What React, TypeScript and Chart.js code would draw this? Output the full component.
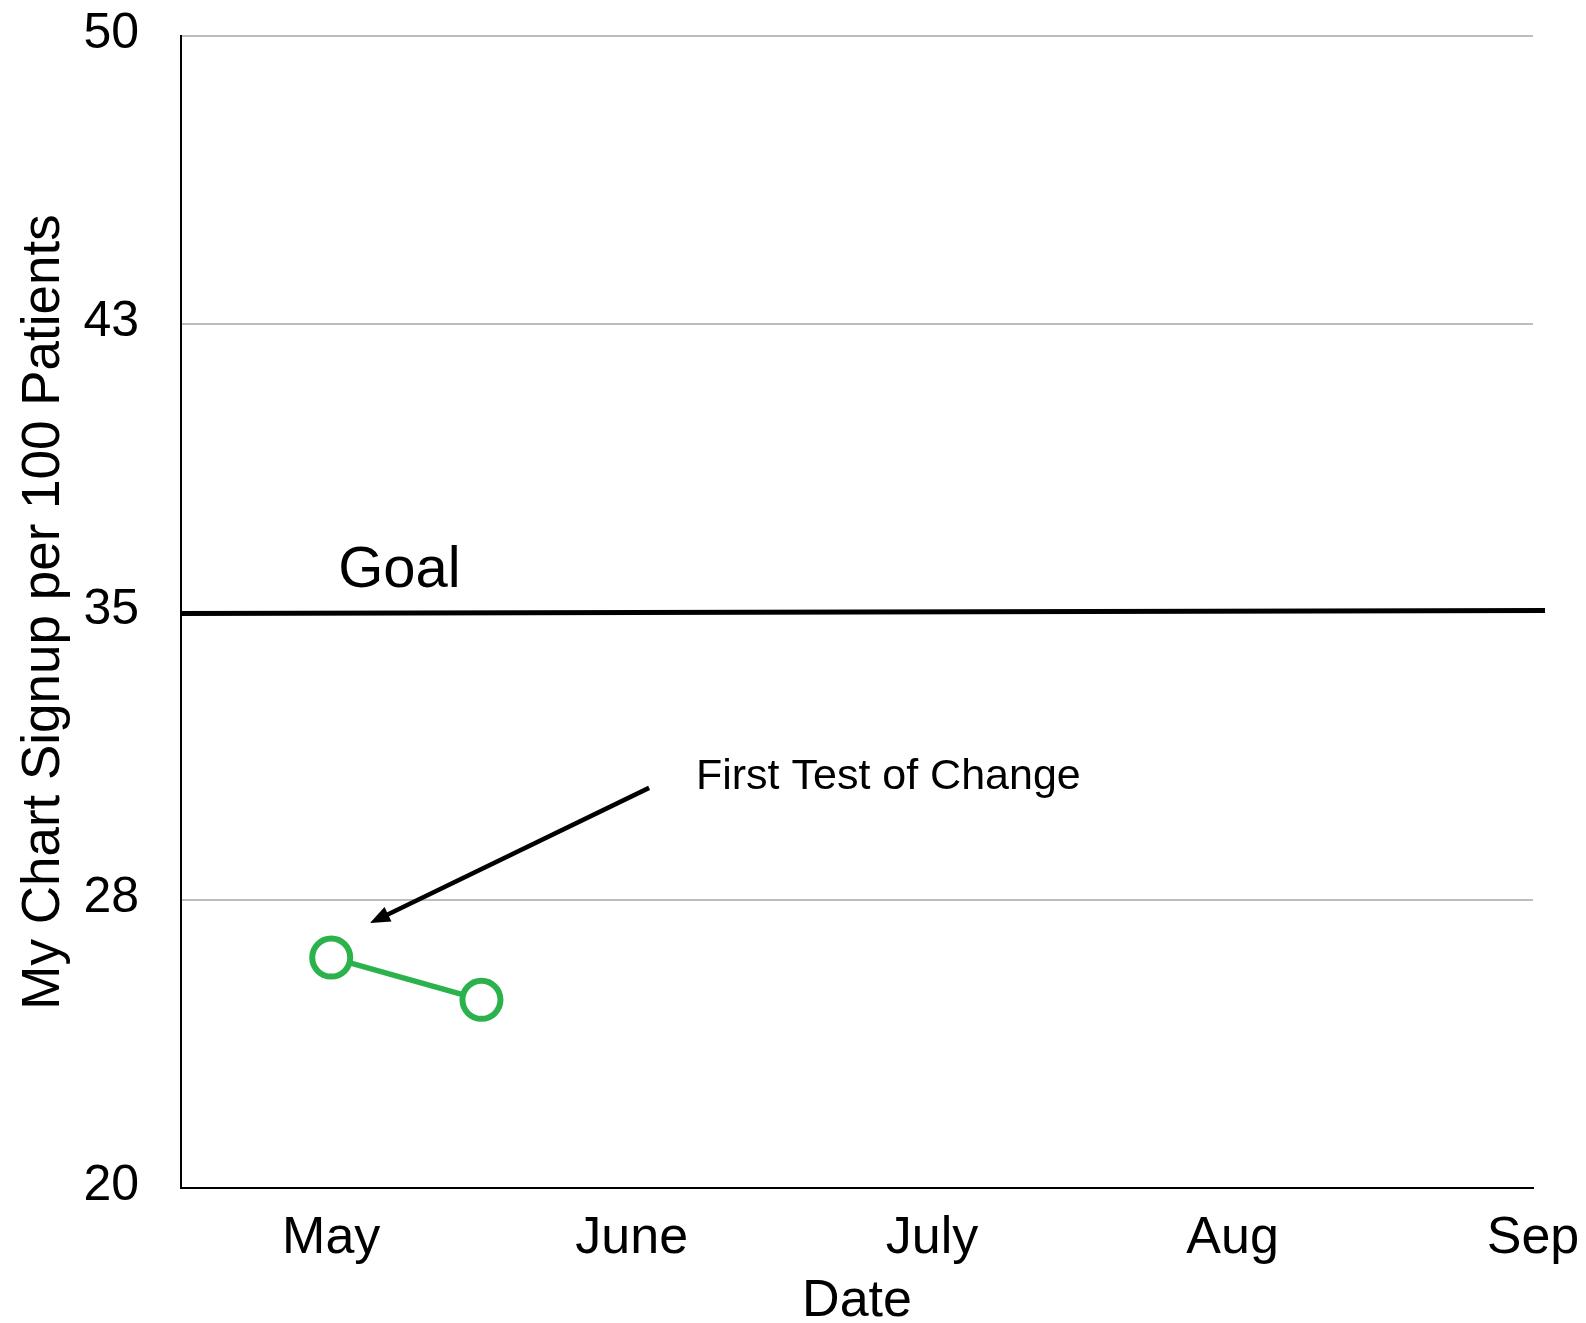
import React, { useEffect, useRef } from "react";
import { Chart, registerables } from "chart.js";

Chart.register(...registerables);

// ---- data ----
const months = ["May", "June", "July", "Aug", "Sep"];
const monthPositions = [0, 1, 2, 3, 4];
const signupX = [0, 0.5];
const signupY = [26.0, 24.9];
const goalX = [-0.5, 4.04];
const goalY = [34.96, 35.04];
const yTickValues = [20, 27.5, 35, 42.5, 50];
const yTickLabels = ["20", "28", "35", "43", "50"];
const goalLabel = "Goal";
const noteText = "First Test of Change";
const xTitle = "Date";
const yTitle = "My Chart Signup per 100 Patients";

// annotation anchors (data coordinates)
const goalLabelAt = { x: 0.023, y: 35.65 };
const noteAt = { x: 1.214, y: 30.39 };
const arrowFrom = { x: 1.058, y: 30.42 };
const arrowTo = { x: 0.129, y: 26.9 };

const FONT = '"Liberation Sans", Arial, sans-serif';
const GREEN = "#2bb24c";
const W = 1586;
const H = 1323;

const annotationPlugin = {
  id: "annotations",
  afterDatasetsDraw(chart: any) {
    const { ctx } = chart;
    const xs = chart.scales.x;
    const ys = chart.scales.y;
    ctx.save();
    ctx.fillStyle = "#000";
    ctx.textAlign = "left";
    ctx.textBaseline = "alphabetic";
    ctx.font = `58px ${FONT}`;
    ctx.fillText(goalLabel, xs.getPixelForValue(goalLabelAt.x), ys.getPixelForValue(goalLabelAt.y));
    ctx.font = `43px ${FONT}`;
    ctx.fillText(noteText, xs.getPixelForValue(noteAt.x), ys.getPixelForValue(noteAt.y));

    const x1 = xs.getPixelForValue(arrowFrom.x);
    const y1 = ys.getPixelForValue(arrowFrom.y);
    const x2 = xs.getPixelForValue(arrowTo.x);
    const y2 = ys.getPixelForValue(arrowTo.y);
    const ang = Math.atan2(y2 - y1, x2 - x1);
    const headLen = 20;
    const headHalf = 8;
    const bx = x2 - headLen * Math.cos(ang);
    const by = y2 - headLen * Math.sin(ang);
    ctx.strokeStyle = "#000";
    ctx.lineWidth = 4.5;
    ctx.beginPath();
    ctx.moveTo(x1, y1);
    ctx.lineTo(bx + 2 * Math.cos(ang), by + 2 * Math.sin(ang));
    ctx.stroke();
    ctx.beginPath();
    ctx.moveTo(x2, y2);
    ctx.lineTo(bx + headHalf * Math.sin(ang), by - headHalf * Math.cos(ang));
    ctx.lineTo(bx - headHalf * Math.sin(ang), by + headHalf * Math.cos(ang));
    ctx.closePath();
    ctx.fill();
    ctx.restore();
  },
};

export default function App() {
  const ref = useRef<HTMLCanvasElement | null>(null);

  useEffect(() => {
    if (!ref.current) return;
    const chart = new Chart(ref.current, {
      type: "line",
      data: {
        datasets: [
          {
            label: "Goal",
            data: goalX.map((x, i) => ({ x, y: goalY[i] })),
            borderColor: "#000",
            borderWidth: 5,
            pointRadius: 0,
            clip: false as any,
            order: 2,
          },
          {
            label: "Signup",
            data: signupX.map((x, i) => ({ x, y: signupY[i] })),
            borderColor: GREEN,
            borderWidth: 5.5,
            pointRadius: 19,
            pointBorderWidth: 6,
            pointBackgroundColor: "#fff",
            pointBorderColor: GREEN,
            order: 1,
          },
        ],
      },
      options: {
        responsive: false,
        animation: false,
        devicePixelRatio: 1,
        layout: { padding: { top: 36, right: 53, left: 0, bottom: 0 } },
        plugins: {
          legend: { display: false },
          tooltip: { enabled: false },
        },
        scales: {
          x: {
            type: "linear",
            min: -0.5,
            max: 4,
            afterBuildTicks: (s: any) => {
              s.ticks = monthPositions.map((v) => ({ value: v }));
            },
            afterFit: (s: any) => {
              s.height = 135;
              s.paddingLeft = 0;
              s.paddingRight = 0;
              s.paddingTop = 0;
              s.paddingBottom = 0;
            },
            grid: { display: false, drawTicks: false },
            border: { display: true, color: "#000", width: 2 },
            ticks: {
              padding: 19,
              maxRotation: 0,
              autoSkip: false,
              color: "#000",
              font: { family: FONT, size: 52 },
              callback: (_v: any, i: number) => months[i],
            },
            title: {
              display: true,
              text: xTitle,
              color: "#000",
              font: { family: FONT, size: 52, lineHeight: 1 },
              padding: { top: 0, bottom: -5 },
            },
          },
          y: {
            type: "linear",
            min: 20,
            max: 50,
            afterBuildTicks: (s: any) => {
              s.ticks = yTickValues.map((v) => ({ value: v }));
            },
            afterFit: (s: any) => {
              s.width = 181;
              s.paddingLeft = 0;
              s.paddingRight = 0;
              s.paddingTop = 0;
              s.paddingBottom = 0;
            },
            grid: {
              drawTicks: false,
              lineWidth: 2,
              color: (c: any) => (c.tick && c.tick.value === 20 ? "rgba(0,0,0,0)" : "#bdbdbd"),
            },
            border: { display: true, color: "#000", width: 2 },
            ticks: {
              padding: 42,
              labelOffset: -2,
              color: "#000",
              font: { family: FONT, size: 50 },
              callback: (_v: any, i: number) => yTickLabels[i],
            },
            title: {
              display: true,
              text: yTitle,
              color: "#000",
              font: { family: FONT, size: 53 },
              padding: { top: 13, bottom: 0 },
            },
          },
        },
      },
      plugins: [annotationPlugin],
    });
    return () => chart.destroy();
  }, []);

  return (
    <div style={{ position: "absolute", left: 0, top: 0, width: W, height: H, background: "#fff" }}>
      <canvas ref={ref} width={W} height={H} style={{ display: "block" }} />
    </div>
  );
}
